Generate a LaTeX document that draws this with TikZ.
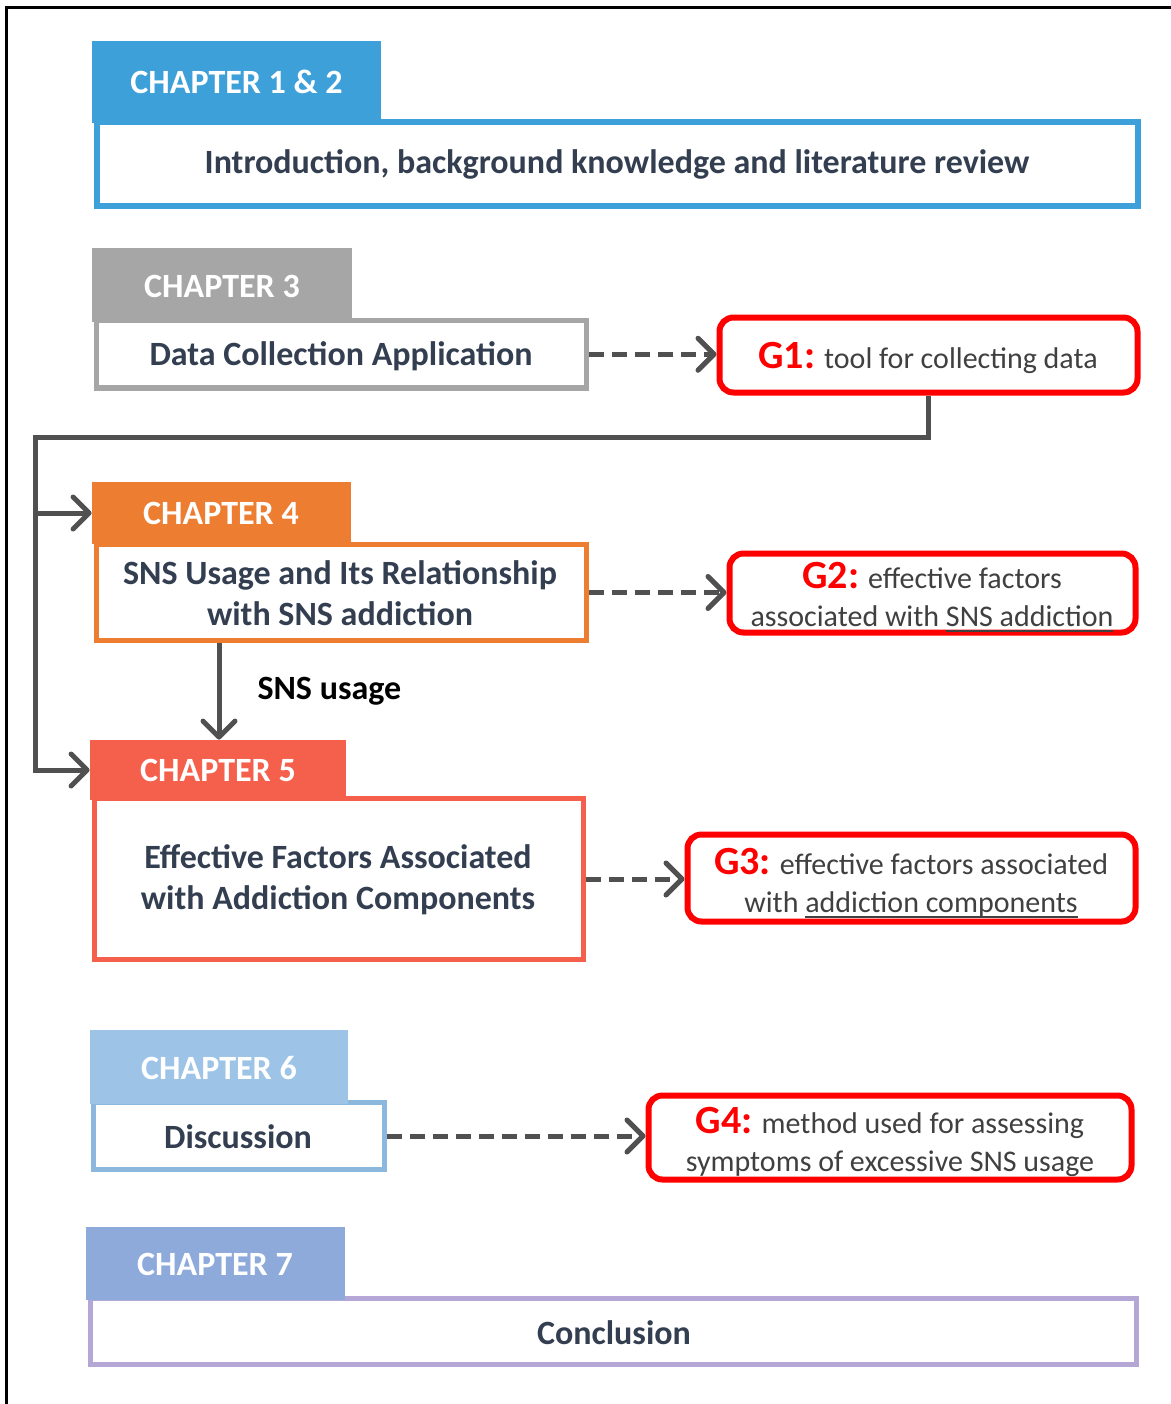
\documentclass[tikz,border=0pt]{standalone}
\usepackage{fontspec}
\setmainfont{Carlito}
\usetikzlibrary{arrows.meta,fit}

\definecolor{chA}{HTML}{3DA0D9}
\definecolor{chB}{HTML}{A6A6A6}
\definecolor{chC}{HTML}{ED7D31}
\definecolor{chD}{HTML}{F4604C}
\definecolor{chE}{HTML}{9DC3E6}
\definecolor{chEline}{HTML}{8DB8DE}
\definecolor{chF}{HTML}{8EAADB}
\definecolor{chFline}{HTML}{B4A7D6}
\definecolor{navytext}{HTML}{333F50}
\definecolor{goalred}{HTML}{FF0000}
\definecolor{goaltext}{HTML}{404040}
\definecolor{connector}{HTML}{505050}

% underline at a fixed depth, crossing descenders
\newcommand\fixedul[1]{\leavevmode\setbox0\hbox{#1}\rlap{\rule[-2.4pt]{\wd0}{0.7pt}}\box0}
\newcommand\goal[1]{{\color{goalred}\bfseries\fontsize{20}{19}\selectfont #1}}

\tikzset{
  tabbox/.style={fill=#1, draw=none, inner sep=0pt},
  tabtext/.style={inner sep=0pt, text=white, font=\bfseries\fontsize{17}{19}\selectfont},
  chapbox/.style={draw=#1, line width=2.6pt, fill=white, inner sep=0pt},
  chaptext/.style={inner sep=0pt, text=navytext, align=center,
    font=\bfseries\fontsize{17}{20.5}\selectfont},
  goalbox/.style={draw=goalred, line width=3pt, rounded corners=7pt, fill=white, inner sep=0pt},
  goaltxt/.style={inner sep=0pt, text=goaltext, align=center,
    font=\fontsize{15}{19}\selectfont},
  dasharrow/.style={draw=connector, line width=2.5pt, dash pattern=on 7.5pt off 4pt,
    -{Straight Barb[length=8pt,width=16pt,round]}},
  conn/.style={draw=connector, line width=2.5pt},
  connarrow/.style={conn, -{Straight Barb[length=8pt,width=16pt,round]}}
}

\begin{document}
\begin{tikzpicture}[x=0.5pt,y=-0.5pt]
\path[use as bounding box, fill=white] (0,0) rectangle (1171,1404);
% page frame
\draw[line width=1.5pt, black] (6,1404) -- (6,7) -- (1171,7);

% chapter 1 & 2
\node[chapbox=chA, fit={(97,122) (1138,206)}] (b1) {};
\node[chaptext] at (617,164) {Introduction, background knowledge and literature review};
\node[tabbox=chA, fit={(92,41) (381,123)}] (t1) {};
\node[tabtext] at (t1.center) {CHAPTER 1 \& 2};

% chapter 3
\node[chapbox=chB, fit={(96.5,320.5) (586.5,388)}] (b3) {};
\node[chaptext] at (341,356) {Data Collection Application};
\node[tabbox=chB, fit={(92,248) (352,322)}] (t3) {};
\node[tabtext] at (222,286) {CHAPTER 3};
\node[goalbox, fit={(719.5,317.5) (1137.5,392.5)}] (g1) {};
\node[goaltxt] at (928,358) {\goal{G1:} tool for collecting data};

% chapter 4
\node[chapbox=chC, fit={(96.5,544.5) (586.5,640.5)}] (b4) {};
\node[chaptext] at (340,593) {SNS Usage and Its Relationship\\with SNS addiction};
\node[tabbox=chC, fit={(92,482) (351,544)}] (t4) {};
\node[tabtext] at (221,513) {CHAPTER 4};
\node[goalbox, fit={(729.5,553.5) (1135.5,632.5)}] (g2) {};
\node[goaltxt] at (932,597) {\goal{G2:} effective factors\\associated with \fixedul{SNS addiction}};

% chapter 5
\node[chapbox=chD, fit={(94.5,798.5) (583.5,959.5)}] (b5) {};
\node[chaptext] at (338,880) {Effective Factors Associated\\with Addiction Components};
\node[tabbox=chD, fit={(90,740) (346,800)}] (t5) {};
\node[tabtext] at (218,770) {CHAPTER 5};
\node[goalbox, fit={(687.5,834.5) (1135.5,921.5)}] (g3) {};
\node[goaltxt] at (911,883) {\goal{G3:} effective factors associated\\with \fixedul{addiction components}};

% chapter 6
\node[chapbox=chEline, fit={(93.5,1102.5) (384.5,1169.5)}] (b6) {};
\node[chaptext] at (238,1137) {Discussion};
\node[tabbox=chE, fit={(90,1030) (348,1104)}] (t6) {};
\node[tabtext] at (219,1068) {CHAPTER 6};
\node[goalbox, fit={(648.5,1095.5) (1131.5,1179.5)}] (g4) {};
\node[goaltxt] at (890,1142) {\goal{G4:} method used for assessing\\symptoms of excessive SNS usage};

% chapter 7
\node[chapbox=chFline, fit={(90.5,1298.5) (1136.5,1364.5)}] (b7) {};
\node[chaptext] at (614,1333) {Conclusion};
\node[tabbox=chF, fit={(86,1227) (345,1300)}] (t7) {};
\node[tabtext] at (215,1264) {CHAPTER 7};

% goals reached by each chapter
\draw[dasharrow] (b3.east) -- (b3.east -| g1.west);
\draw[dasharrow] (b4.east) -- (b4.east -| g2.west);
\draw[dasharrow] (b5.east) -- (b5.east -| g3.west);
\draw[dasharrow] (b6.east) -- (b6.east -| g4.west);

% the data collection tool feeds chapters 4 and 5
\coordinate (bus) at (35,437);
\draw[connarrow] (g1.south) |- (bus) |- (t5.west);
\draw[connarrow] (bus |- t4.west) -- (t4.west);

% SNS usage passed from chapter 4 to chapter 5
\coordinate (vx) at (219,0);
\draw[connarrow] (b4.south -| vx) -- (t5.north -| vx)
  node[midway, anchor=west, xshift=18pt, inner sep=0pt, text=black,
       font=\bfseries\fontsize{17}{19}\selectfont] (lbl) {SNS usage};
\end{tikzpicture}
\end{document}
